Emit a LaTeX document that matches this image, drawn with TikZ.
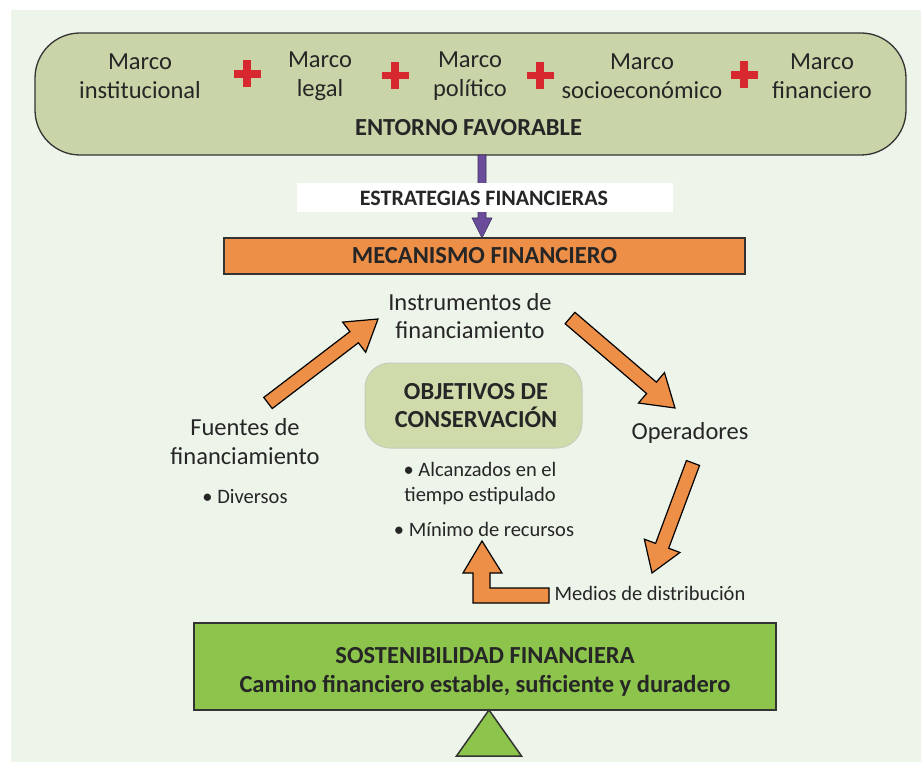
\documentclass[tikz,border=0pt]{standalone}
\usepackage{fontspec}
\setmainfont{Carlito}
\usetikzlibrary{calc}

\definecolor{panel}{HTML}{EDF4EA}
\definecolor{olive}{HTML}{C9D5A8}
\definecolor{objfill}{HTML}{CFDBAB}
\definecolor{objline}{HTML}{C5CEBB}
\definecolor{orangebox}{HTML}{EE8F47}
\definecolor{greenbox}{HTML}{8DC54C}
\definecolor{purplearrow}{HTML}{6A4C9B}
\definecolor{plusred}{HTML}{D7282F}
\definecolor{ink}{HTML}{262626}
\definecolor{edge}{HTML}{333333}

% block arrow: [style]{tail}{tip}{half shaft width}{half head width}{head length}
\newcommand\blockarrow[6][]{%
  \coordinate (ba-h) at ($(#3)!#6!(#2)$);
  \filldraw[#1] ($(#2)!#4!90:(#3)$) -- ($(ba-h)!#4!90:(#3)$) -- ($(ba-h)!#5!90:(#3)$)
    -- (#3) -- ($(ba-h)!#5!-90:(#3)$) -- ($(ba-h)!#4!-90:(#3)$) -- ($(#2)!#4!-90:(#3)$) -- cycle;
}

\tikzset{
  txt/.style={text=ink, align=center, inner sep=0pt},
  marco/.style={txt, font=\fontsize{24.5}{29}\selectfont},
  big/.style={txt, font=\fontsize{24.5}{#1}\selectfont},
  small/.style={txt, font=\fontsize{20.5}{25}\selectfont},
  boldtxt/.style 2 args={txt, font=\bfseries\fontsize{#1}{#2}\selectfont},
  plussign/.style={plusred},
  orangearrow/.style={fill=orangebox, draw=black, line width=1.2pt, line join=miter},
}

\begin{document}
\begin{tikzpicture}[x=1pt,y=-1pt]
\useasboundingbox (0,0) rectangle (921,762);
\fill[panel] (11,10) rectangle (921,762);

% enabling environment
\node[draw=edge, line width=1.3pt, fill=olive, rounded corners=45pt,
      minimum width=871pt, minimum height=122pt, inner sep=0pt] (entorno) at (470.5,94) {};
\node[marco] (m1) at (140,76) {Marco\\institucional};
\node[marco] (m2) at (320,76) {Marco\\legal};
\node[marco] (m3) at (470,76) {Marco\\político};
\node[marco] (m4) at (642,76) {Marco\\socioeconómico};
\node[marco] (m5) at (822,76) {Marco\\financiero};
\foreach \px/\py in {247/74, 395/75.5, 540/75.5, 744/75}{
  \fill[plussign] (\px-13.5,\py-3.7) rectangle (\px+13.5,\py+3.7);
  \fill[plussign] (\px-3.7,\py-13.5) rectangle (\px+3.7,\py+13.5);
}
\node[boldtxt={24.5}{28}] (entlabel) at (468.5,128) {ENTORNO FAVORABLE};

% strategies link
\coordinate (pa) at (482,155);
\coordinate (pb) at (482,238);
\filldraw[fill=purplearrow, draw=purplearrow!60!black, line width=0.6pt]
  ($(pa)+(-4,0)$) -- ($(pb)+(-4,-20)$) -- ($(pb)+(-10,-20)$) -- (pb)
  -- ($(pb)+(10,-20)$) -- ($(pb)+(4,-20)$) -- ($(pa)+(4,0)$) -- cycle;
\node[fill=white, minimum width=376pt, minimum height=29pt, inner sep=0pt] (estrbox) at (485,197.5) {};
\node[boldtxt={22}{26}] (estr) at (484,198) {ESTRATEGIAS FINANCIERAS};

% financial mechanism
\node[draw=edge, line width=1.3pt, fill=orangebox, minimum width=521pt, minimum height=36pt,
      inner sep=0pt] (mecanismo) at (484.5,256) {};
\node[boldtxt={24.5}{28}] (meclabel) at (484.5,256) {MECANISMO FINANCIERO};

% cycle
\node[big=28] (instr) at (470,316) {Instrumentos de\\financiamiento};
\node[big=28] (oper) at (690,433) {Operadores};
\node[big=29] (fuentes) at (245,442) {Fuentes de\\financiamiento};
\node[small] (diversos) at (245,497) {• Diversos};
\node[small] (medios) at (650,593) {Medios de distribución};

\node[draw=objline, line width=1pt, fill=objfill, rounded corners=25pt,
      minimum width=217pt, minimum height=85pt, inner sep=0pt] (objetivos) at (473.5,405.5) {};
\node[boldtxt={24.5}{28}] (objlabel) at (476,406) {OBJETIVOS DE\\CONSERVACIÓN};
\node[small] (alc) at (480,484) {• Alcanzados en el\\tiempo estipulado};
\node[small] (minimo) at (484,529) {• Mínimo de recursos};

\coordinate (f-out) at (268,403);
\coordinate (i-in) at (378,319);
\coordinate (i-out) at (570,318);
\coordinate (o-in) at (675,408);
\coordinate (o-out) at (693,463);
\coordinate (md-in) at (652,573);
\blockarrow[orangearrow]{f-out}{i-in}{7pt}{19pt}{30pt}
\blockarrow[orangearrow]{i-out}{o-in}{7.5pt}{20pt}{31pt}
\blockarrow[orangearrow]{o-out}{md-in}{7pt}{19pt}{29pt}

% distribution back to the objectives
\coordinate (el-start) at (549,595.5);
\coordinate (el-tip) at (482,541);
\filldraw[orangearrow] ($(el-start)+(0,-7.5)$) -- ($(el-tip)+(8,47)$) -- ($(el-tip)+(8,32)$)
  -- ($(el-tip)+(20,32)$) -- (el-tip) -- ($(el-tip)+(-19,32)$) -- ($(el-tip)+(-9,32)$)
  -- ($(el-tip)+(-9,62)$) -- ($(el-start)+(0,7.5)$) -- cycle;

% sustainability on its pivot
\node[draw=edge, line width=1.5pt, fill=greenbox, minimum width=582pt, minimum height=87pt,
      inner sep=0pt] (sost) at (485,666.5) {};
\node[boldtxt={24.5}{29}] (sostlabel) at (485,671.5)
  {SOSTENIBILIDAD FINANCIERA\\Camino financiero estable, suficiente y duradero};
\coordinate (apex) at (489,710);
\filldraw[fill=greenbox, draw=edge, line width=1.5pt, line join=miter]
  (apex) -- ($(apex)+(32.5,46)$) -- ($(apex)+(-32.5,46)$) -- cycle;
\end{tikzpicture}
\end{document}
